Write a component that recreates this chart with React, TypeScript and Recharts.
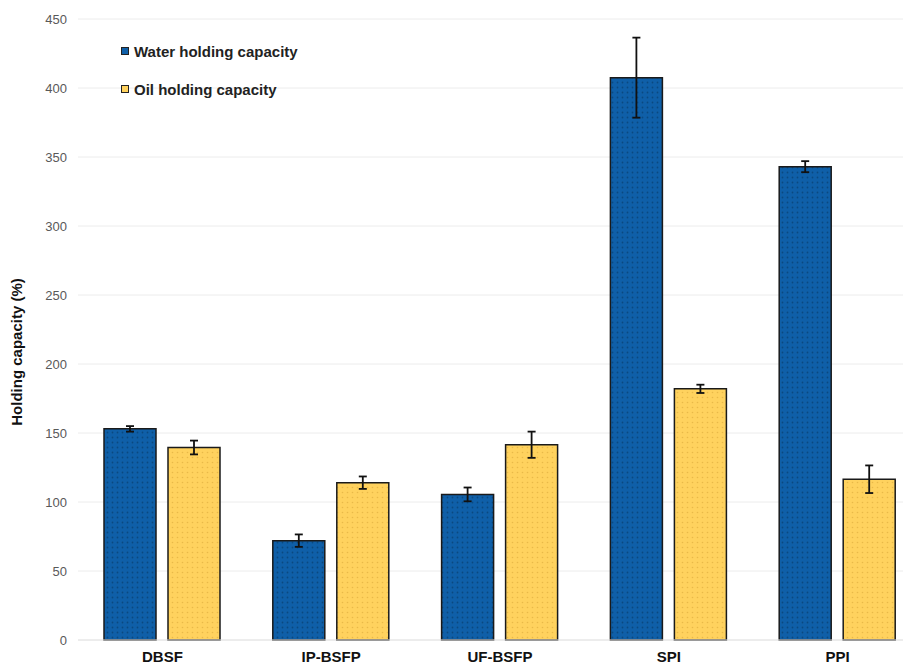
import React from 'react';
import { ComposedChart, Bar, XAxis, YAxis, CartesianGrid, ErrorBar } from 'recharts';

const categories = ['DBSF', 'IP-BSFP', 'UF-BSFP', 'SPI', 'PPI'];
const waterValues = [153, 72, 105.5, 407.5, 343];
const waterErrors = [2, 4.5, 5, 29, 4];
const oilValues = [139.5, 114, 141.5, 182, 116.5];
const oilErrors = [5, 4.5, 9.5, 3, 10];
const yTicks = [0, 50, 100, 150, 200, 250, 300, 350, 400, 450];

const data = categories.map((c, i) => ({
  name: c,
  water: waterValues[i],
  waterErr: waterErrors[i],
  oil: oilValues[i],
  oilErr: oilErrors[i],
}));

const BLUE = '#0F5FA8';
const YELLOW = '#FFD25E';

const legendItems = [
  { label: 'Water holding capacity', color: BLUE },
  { label: 'Oil holding capacity', color: YELLOW },
];

const LegendBox = () => (
  <div
    style={{
      position: 'absolute',
      left: 121,
      top: 41,
      fontFamily: 'Liberation Sans, Arial, sans-serif',
      fontWeight: 'bold',
      fontSize: 15,
      color: '#222',
    }}
  >
    {legendItems.map((it) => (
      <div key={it.label} style={{ display: 'flex', alignItems: 'center', height: 20, marginBottom: 18 }}>
        <span style={{ display: 'inline-block', width: 6, height: 6, background: it.color, border: '1.5px solid #222', marginRight: 5 }} />
        <span>{it.label}</span>
      </div>
    ))}
  </div>
);

const YLabel = () => (
  <text
    x={16}
    y={352}
    transform="rotate(-90, 16, 352)"
    textAnchor="middle"
    dominantBaseline="central"
    fontFamily="Liberation Sans, Arial, sans-serif"
    fontWeight="bold"
    fontSize={15}
    fill="#111"
  >
    Holding capacity (%)
  </text>
);

export default function App() {
  return (
    <div style={{ position: 'absolute', left: 0, top: 0, width: 903, height: 666, overflow: 'hidden', background: '#fff' }}>
      <ComposedChart
        width={930}
        height={666}
        data={data}
        margin={{ top: 19, right: 8, bottom: 0, left: 0 }}
        barGap={12}
      >
        <defs>
          <pattern id="dotsBlue" width="5" height="5" patternUnits="userSpaceOnUse">
            <rect width="5" height="5" fill={BLUE} />
            <circle cx="2.5" cy="2.5" r="0.9" fill="#0A4880" />
          </pattern>
          <pattern id="dotsYellow" width="5" height="5" patternUnits="userSpaceOnUse">
            <rect width="5" height="5" fill={YELLOW} />
            <circle cx="2.5" cy="2.5" r="0.8" fill="#E9B948" />
          </pattern>
        </defs>
        <CartesianGrid vertical={false} stroke="#ececec" />
        <XAxis
          dataKey="name"
          axisLine={{ stroke: '#e4e4e4' }}
          tickLine={false}
          tickSize={0}
          tickMargin={11}
          height={26}
          tick={{ fontFamily: 'Liberation Sans, Arial, sans-serif', fontWeight: 'bold', fontSize: 15, fill: '#111' }}
          interval={0}
        />
        <YAxis
          domain={[0, 450]}
          ticks={yTicks}
          axisLine={false}
          tickLine={false}
          tickSize={0}
          tickMargin={11}
          width={78}
          tick={{ fontFamily: 'Liberation Sans, Arial, sans-serif', fontSize: 13, fill: '#595959' }}
          label={<YLabel />}
        />
        <Bar dataKey="water" name="Water holding capacity" fill="url(#dotsBlue)" stroke="#1a1a1a" strokeWidth={1.5} barSize={52} isAnimationActive={false}>
          <ErrorBar dataKey="waterErr" width={4} stroke="#111" strokeWidth={1.8} direction="y" />
        </Bar>
        <Bar dataKey="oil" name="Oil holding capacity" fill="url(#dotsYellow)" stroke="#1a1a1a" strokeWidth={1.5} barSize={52} isAnimationActive={false}>
          <ErrorBar dataKey="oilErr" width={4} stroke="#111" strokeWidth={1.8} direction="y" />
        </Bar>
      </ComposedChart>
      <LegendBox />
    </div>
  );
}
